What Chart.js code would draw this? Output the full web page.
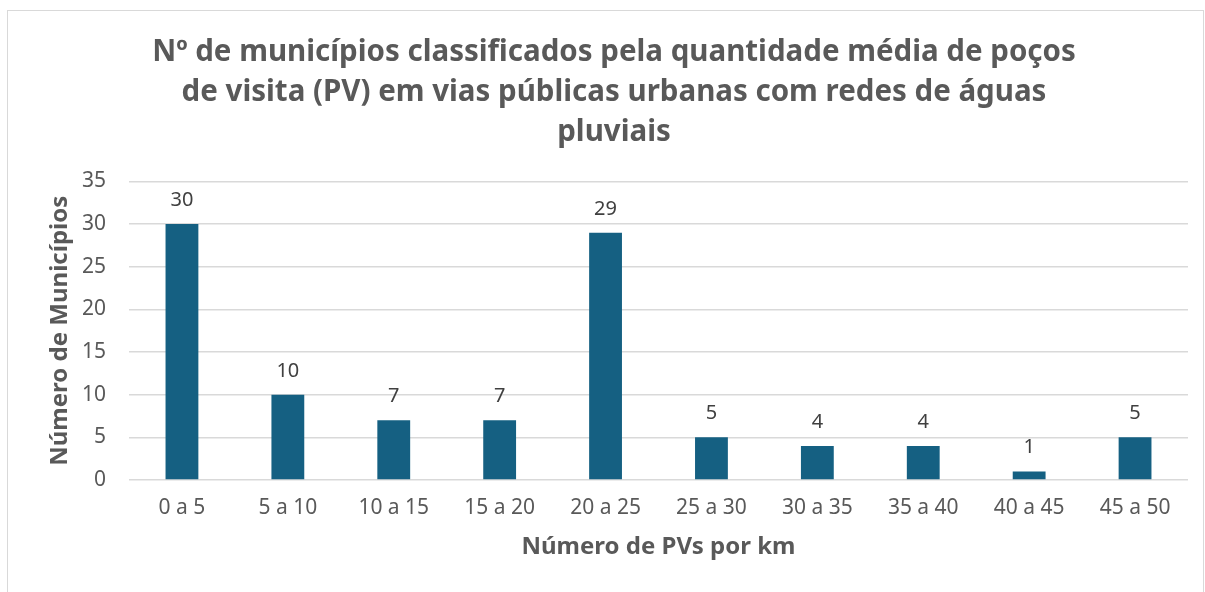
<!DOCTYPE html>
<html>
<head>
<meta charset="utf-8">
<script src="https://cdn.jsdelivr.net/npm/chart.js@4/dist/chart.umd.min.js"></script>
<style>
  html, body { margin: 0; padding: 0; background: #fff; overflow: hidden; }
  #frame { position: absolute; left: 7px; top: 10px; width: 1195px; height: 600px; border: 1px solid #d9d9d9; }
  #pvChart { position: absolute; left: 0; top: 0; }
</style>
</head>
<body>
<div id="frame"></div>
<canvas id="pvChart" width="1205" height="592"></canvas>
<script>
const categories = ['0 a 5', '5 a 10', '10 a 15', '15 a 20', '20 a 25', '25 a 30', '30 a 35', '35 a 40', '40 a 45', '45 a 50'];
const municipios = [30, 10, 7, 7, 29, 5, 4, 4, 1, 5];
const yTicks = [0, 5, 10, 15, 20, 25, 30, 35];

const font = '"Noto Sans", "Open Sans", sans-serif';

// labels above each bar
const barLabels = {
  id: 'barLabels',
  afterDatasetsDraw(chart) {
    const ctx = chart.ctx;
    const meta = chart.getDatasetMeta(0);
    ctx.save();
    ctx.font = '20px ' + font;
    ctx.fillStyle = '#404040';
    ctx.textAlign = 'center';
    ctx.textBaseline = 'alphabetic';
    meta.data.forEach((bar, i) => {
      ctx.fillText(String(municipios[i]), bar.x, bar.y - 18);
    });
    ctx.restore();
  }
};

new Chart(document.getElementById('pvChart'), {
  type: 'bar',
  data: {
    labels: categories,
    datasets: [{
      data: municipios,
      backgroundColor: '#156082',
      barPercentage: 0.62,
      categoryPercentage: 0.5
    }]
  },
  options: {
    responsive: false,
    animation: false,
    maintainAspectRatio: false,
    layout: { padding: { left: 40, right: 17, top: 0, bottom: 30 } },
    plugins: {
      legend: { display: false },
      tooltip: { enabled: false },
      title: {
        display: true,
        text: ['Nº de municípios classificados pela quantidade média de poços',
               'de visita (PV) em vias públicas urbanas com redes de águas',
               'pluviais'],
        color: '#595959',
        font: { family: font, size: 29.5, weight: 'bold', lineHeight: 1.35 },
        padding: { top: 33, bottom: 29 }
      }
    },
    scales: {
      x: {
        afterFit(scale) { scale.height = 82; },
        grid: { display: false, drawTicks: false },
        border: { display: false },
        ticks: { color: '#595959', font: { family: font, size: 21 }, padding: 15 },
        title: {
          display: true,
          text: 'Número de PVs por km',
          color: '#595959',
          font: { family: font, size: 24, weight: 'bold' },
          padding: { top: 13, bottom: 0 }
        }
      },
      y: {
        min: 0,
        max: 35,
        afterBuildTicks(axis) { axis.ticks = yTicks.map(v => ({ value: v })); },
        afterFit(scale) { scale.width = 89; },
        grid: { color: '#d9d9d9', lineWidth: 1.5, drawTicks: false },
        border: { display: false },
        ticks: { color: '#595959', font: { family: font, size: 21 }, padding: 23 },
        title: {
          display: true,
          text: 'Número de Municípios',
          color: '#595959',
          font: { family: font, size: 24, weight: 'bold' },
          padding: { top: 6, bottom: 8 }
        }
      }
    }
  },
  plugins: [barLabels]
});
</script>
</body>
</html>
